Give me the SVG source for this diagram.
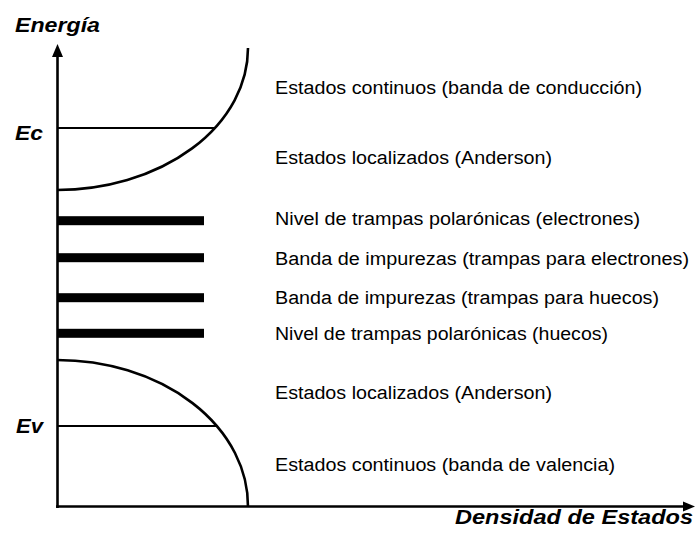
<svg xmlns="http://www.w3.org/2000/svg" width="695" height="545" viewBox="0 0 695 545">
<defs>
<style>
.lbl{font-family:"Liberation Sans",Arial,sans-serif;font-size:18px;fill:#000}
.ax{font-family:"Liberation Sans",Arial,sans-serif;font-size:20px;font-weight:bold;font-style:italic;fill:#000}
.axis{stroke:#000;stroke-width:2.6;fill:none}
.lvl{stroke:#000;stroke-width:2.2;fill:none}
.curve{stroke:#000;stroke-width:2.6;fill:none}
.bar{fill:#000}
</style>
</defs>
<rect width="695" height="545" fill="#fff"/>
<g id="connectors">
<line class="axis" x1="57.5" y1="508" x2="57.5" y2="55"/>
<polygon points="57.5,44 52,57 63,57" fill="#000"/>
<line class="axis" x1="56" y1="506.5" x2="685" y2="506.5"/>
<polygon points="695,506.5 683,501.5 683,511.5" fill="#000"/>
</g>
<g id="conduction-band">
<path class="curve" d="M57,190 A191,142 0 0 0 248,48"/>
<line class="lvl" x1="57" y1="128" x2="215" y2="128"/>
</g>
<g id="valence-band">
<path class="curve" d="M57,360 A191,146 0 0 1 248,507"/>
<line class="lvl" x1="57" y1="426" x2="216" y2="426"/>
</g>
<g id="trap-levels">
<rect class="bar" x="57" y="216.2" width="147" height="9"/>
<rect class="bar" x="57" y="253.2" width="147" height="9"/>
<rect class="bar" x="57" y="293.2" width="147" height="9"/>
<rect class="bar" x="57" y="328.8" width="147" height="9"/>
</g>
<g id="axis-labels">
<text class="ax" x="15" y="32" textLength="85" lengthAdjust="spacingAndGlyphs">Energía</text>
<text class="ax" x="15" y="140" textLength="28" lengthAdjust="spacingAndGlyphs">Ec</text>
<text class="ax" x="16" y="433" textLength="27" lengthAdjust="spacingAndGlyphs">Ev</text>
<text class="ax" x="455" y="524" textLength="238" lengthAdjust="spacingAndGlyphs">Densidad de Estados</text>
</g>
<g id="labels">
<text class="lbl" x="275" y="94" textLength="367" lengthAdjust="spacingAndGlyphs">Estados continuos (banda de conducción)</text>
<text class="lbl" x="275" y="164" textLength="277" lengthAdjust="spacingAndGlyphs">Estados localizados (Anderson)</text>
<text class="lbl" x="275" y="225" textLength="365" lengthAdjust="spacingAndGlyphs">Nivel de trampas polarónicas (electrones)</text>
<text class="lbl" x="275" y="264.5" textLength="414" lengthAdjust="spacingAndGlyphs">Banda de impurezas (trampas para electrones)</text>
<text class="lbl" x="275" y="304" textLength="384" lengthAdjust="spacingAndGlyphs">Banda de impurezas (trampas para huecos)</text>
<text class="lbl" x="275" y="340" textLength="333" lengthAdjust="spacingAndGlyphs">Nivel de trampas polarónicas (huecos)</text>
<text class="lbl" x="275" y="399" textLength="277" lengthAdjust="spacingAndGlyphs">Estados localizados (Anderson)</text>
<text class="lbl" x="275" y="471" textLength="340" lengthAdjust="spacingAndGlyphs">Estados continuos (banda de valencia)</text>
</g>
</svg>
